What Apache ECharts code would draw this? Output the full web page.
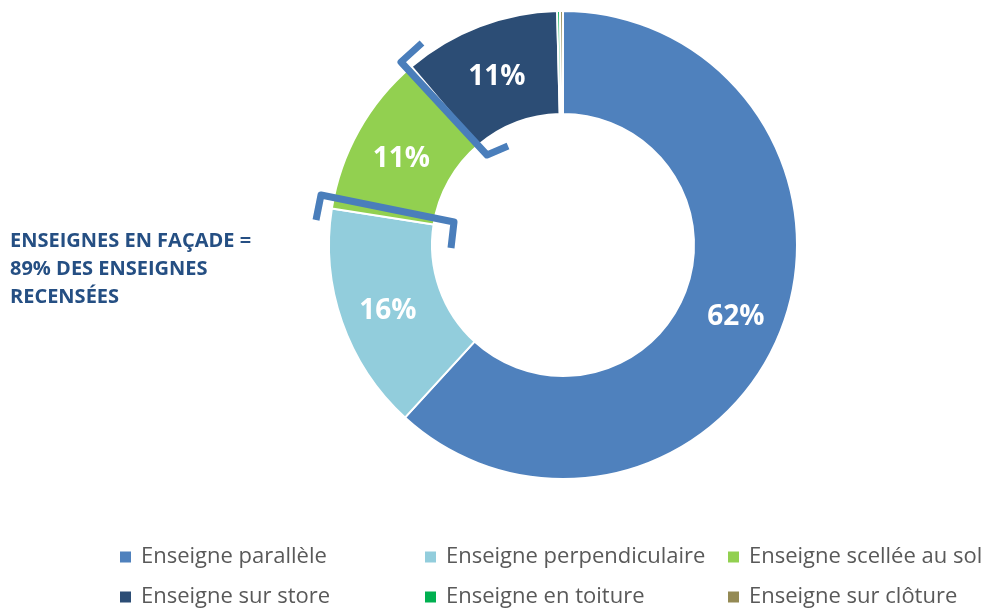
<!DOCTYPE html>
<html>
<head>
<meta charset="utf-8">
<script src="https://cdn.jsdelivr.net/npm/echarts@6/dist/echarts.min.js"></script>
<style>
  html, body { margin: 0; padding: 0; background: #fff; }
  #chart { width: 993px; height: 610px; }
</style>
</head>
<body>
<div id="chart"></div>
<script>
const categories = [
  'Enseigne parallèle', 'Enseigne perpendiculaire', 'Enseigne scellée au sol',
  'Enseigne sur store', 'Enseigne en toiture', 'Enseigne sur clôture'
];
const shares = [61.8, 15.7, 11.3, 10.8, 0.2, 0.2];
const colors = ['#4F81BD', '#92CDDC', '#92D050', '#2C4D75', '#00B050', '#948A54'];
const noteLines = ['ENSEIGNES EN FAÇADE =', '89% DES ENSEIGNES', 'RECENSÉES'];

const FONT = '"Open Sans", sans-serif';
const chart = echarts.init(document.getElementById('chart'));

const legendStyle = {
  orient: 'vertical',
  padding: 0,
  itemWidth: 13,
  itemHeight: 13,
  itemGap: 18,
  icon: 'rect',
  textStyle: { fontFamily: FONT, fontSize: 22, lineHeight: 20, color: '#595959', padding: [0, 0, 0, 4] }
};

const option = {
  animation: false,
  color: colors,
  legend: [
    Object.assign({ left: 118, top: 546, data: [categories[0], categories[3]] }, legendStyle),
    Object.assign({ left: 423, top: 546, data: [categories[1], categories[4]] }, legendStyle),
    Object.assign({ left: 726, top: 546, data: [categories[2], categories[5]] }, legendStyle)
  ],
  graphic: [
    {
      type: 'text', left: 10, top: 227,
      style: {
        text: noteLines.join('\n'), fontFamily: FONT, fontWeight: 'bold',
        fontSize: 20, lineHeight: 28, fill: '#254F83'
      }
    },
    {
      type: 'polyline', z: 10,
      shape: { points: [[422, 43], [401, 62], [487, 155], [508, 146]] },
      style: { stroke: '#4A7EBB', lineWidth: 7, fill: null, lineJoin: 'round' }
    },
    {
      type: 'polyline', z: 10,
      shape: { points: [[316, 220], [321, 195], [454, 222], [451, 248]] },
      style: { stroke: '#4A7EBB', lineWidth: 7, fill: null, lineJoin: 'round' }
    }
  ],
  series: [{
    type: 'pie',
    center: [563, 245],
    radius: [131, 234],
    startAngle: 90,
    clockwise: true,
    itemStyle: { borderColor: '#fff', borderWidth: 2 },
    label: {
      position: 'inside',
      fontFamily: FONT,
      fontWeight: 'bold',
      fontSize: 28,
      color: '#fff',
      offset: [0, 5],
      formatter: p => p.value < 1 ? '' : Math.round(p.value) + '%'
    },
    labelLine: { show: false },
    data: categories.map((c, i) => ({ name: c, value: shares[i] }))
  }]
};
chart.setOption(option);
</script>
</body>
</html>
